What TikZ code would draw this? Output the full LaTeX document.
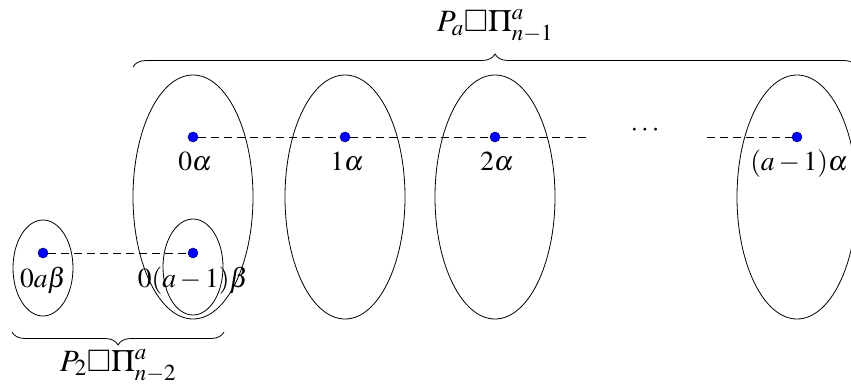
\documentclass[tikz,border=0pt]{standalone}
\usepackage{mathptmx}
\usepackage{amssymb}
\usetikzlibrary{shapes.geometric,decorations.pathreplacing}
\tikzset{
  blob/.style={ellipse,draw,line width=0.8pt,inner sep=0pt,minimum width=#1},
  big blob/.style={blob=120pt,minimum height=244pt},
  small blob/.style={blob=60pt,minimum height=96pt},
  vtx/.style={circle,fill=blue,draw=blue!40!black,line width=0.5pt,inner sep=0pt,minimum size=10pt},
  lbl/.style={anchor=base,inner sep=0pt},
  big lbl/.style={lbl,font=\fontsize{31}{34}\selectfont},
  link/.style={line width=0.8pt,dash pattern=on 8pt off 5pt},
  curly/.style={decorate,line width=0.8pt,decoration={brace,amplitude=13pt}},
}
\begin{document}
\begin{tikzpicture}[x=1pt,y=-1pt,font=\fontsize{27.5}{30}\selectfont]
  \useasboundingbox (0,0) rectangle (851,383);
  % the a copies of Pi_{n-1}
  \foreach \n/\x in {0/193,1/345,2/495,3/797}
    \node[big blob] (E\n) at (\x,197) {};
  % the two copies of Pi_{n-2}
  \node[small blob] (s0) at (43,268) {};
  \node[small blob] (s1) at (193,267) {};
  % vertices
  \foreach \n/\x in {0/193,1/345,2/495,3/797}
    \node[vtx] (v\n) at (\x,137) {};
  \node[vtx] (w0) at (43,253) {};
  \node[vtx] (w1) at (193,253) {};
  % labels
  \node[lbl] (l0) at (195,170) {$0\alpha$};
  \node[lbl] (l1) at (347,170) {$1\alpha$};
  \node[lbl] (l2) at (497,170) {$2\alpha$};
  \node[lbl] (l3) at (799,170) {$(a-1)\alpha$};
  \node[lbl] (m0) at (43,287) {$0a\beta$};
  \node[lbl] (m1) at (193,287) {$0(a-1)\beta$};
  \node (dots) at (645,130) {$\cdots$};
  \coordinate (c0) at (590,137);
  \coordinate (c1) at (707,137);
  % dashed edges
  \draw[link] (v0) -- (v1);
  \draw[link] (v1) -- (v2);
  \draw[link] (v2) -- (c0);
  \draw[link] (c1) -- (v3);
  \draw[link] (w0) -- (w1);
  % braces
  \coordinate (b0) at (133,67);
  \coordinate (b1) at (857,67);
  \coordinate (b2) at (224,332);
  \coordinate (b3) at (12,332);
  \draw[curly] (b0) -- (b1);
  \draw[curly] (b2) -- (b3);
  \node[big lbl] (top) at (495,31) {$P_a\square\Pi^a_{n-1}$};
  \node[big lbl] (bot) at (118,371) {$P_2\square\Pi^a_{n-2}$};
\end{tikzpicture}
\end{document}
